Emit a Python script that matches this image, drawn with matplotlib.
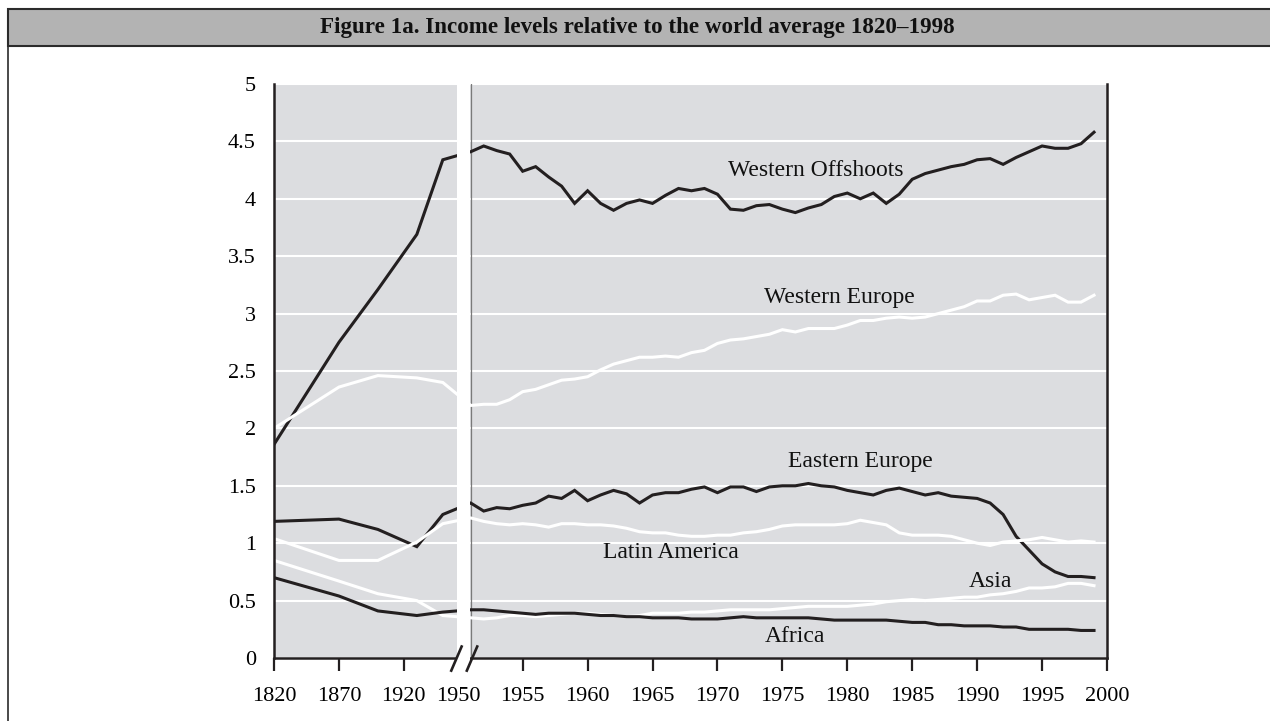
import numpy as np
import matplotlib
matplotlib.use("Agg")
import matplotlib.pyplot as plt
from matplotlib.patches import Rectangle
from matplotlib.lines import Line2D

plt.rcParams['font.family'] = ['Liberation Serif', 'DejaVu Serif']

# data: income relative to world average
years_left = [1820, 1870, 1900, 1930, 1950]
years_right = list(range(1950, 1999))

wo_left = [1.86, 2.75, 3.21, 3.69, 4.34]
wo_right = [4.41, 4.46, 4.42, 4.39, 4.24, 4.28, 4.19, 4.11, 3.96, 4.07,
            3.96, 3.90, 3.96, 3.99, 3.96, 4.03, 4.09, 4.07, 4.09, 4.04,
            3.91, 3.90, 3.94, 3.95, 3.91, 3.88, 3.92, 3.95, 4.02, 4.05,
            4.00, 4.05, 3.96, 4.04, 4.17, 4.22, 4.25, 4.28, 4.30, 4.34,
            4.35, 4.30, 4.36, 4.41, 4.46, 4.44, 4.44, 4.48, 4.58]

we_left = [2.00, 2.36, 2.46, 2.44, 2.40]
we_right = [2.20, 2.21, 2.21, 2.25, 2.32, 2.34, 2.38, 2.42, 2.43, 2.45,
            2.51, 2.56, 2.59, 2.62, 2.62, 2.63, 2.62, 2.66, 2.68, 2.74,
            2.77, 2.78, 2.80, 2.82, 2.86, 2.84, 2.87, 2.87, 2.87, 2.90,
            2.94, 2.94, 2.96, 2.97, 2.96, 2.97, 3.00, 3.03, 3.06, 3.11,
            3.11, 3.16, 3.17, 3.12, 3.14, 3.16, 3.10, 3.10, 3.16]

ee_left = [1.19, 1.21, 1.12, 0.97, 1.25]
ee_right = [1.35, 1.28, 1.31, 1.30, 1.33, 1.35, 1.41, 1.39, 1.46, 1.37,
            1.42, 1.46, 1.43, 1.35, 1.42, 1.44, 1.44, 1.47, 1.49, 1.44,
            1.49, 1.49, 1.45, 1.49, 1.50, 1.50, 1.52, 1.50, 1.49, 1.46,
            1.44, 1.42, 1.46, 1.48, 1.45, 1.42, 1.44, 1.41, 1.40, 1.39,
            1.35, 1.25, 1.06, 0.94, 0.82, 0.75, 0.71, 0.71, 0.70]

la_left = [1.04, 0.85, 0.85, 1.01, 1.17]
la_right = [1.22, 1.19, 1.17, 1.16, 1.17, 1.16, 1.14, 1.17, 1.17, 1.16,
            1.16, 1.15, 1.13, 1.10, 1.09, 1.09, 1.07, 1.06, 1.06, 1.07,
            1.07, 1.09, 1.10, 1.12, 1.15, 1.16, 1.16, 1.16, 1.16, 1.17,
            1.20, 1.18, 1.16, 1.09, 1.07, 1.07, 1.07, 1.06, 1.03, 1.00,
            0.98, 1.01, 1.02, 1.03, 1.05, 1.03, 1.01, 1.02, 1.01]

asia_left = [0.85, 0.67, 0.56, 0.50, 0.37]
asia_right = [0.35, 0.34, 0.35, 0.37, 0.37, 0.36, 0.37, 0.38, 0.39, 0.39,
              0.38, 0.37, 0.36, 0.37, 0.39, 0.39, 0.39, 0.40, 0.40, 0.41,
              0.42, 0.42, 0.42, 0.42, 0.43, 0.44, 0.45, 0.45, 0.45, 0.45,
              0.46, 0.47, 0.49, 0.50, 0.51, 0.50, 0.51, 0.52, 0.53, 0.53,
              0.55, 0.56, 0.58, 0.61, 0.61, 0.62, 0.65, 0.65, 0.63]

af_left = [0.70, 0.54, 0.41, 0.37, 0.40]
af_right = [0.42, 0.42, 0.41, 0.40, 0.39, 0.38, 0.39, 0.39, 0.39, 0.38,
            0.37, 0.37, 0.36, 0.36, 0.35, 0.35, 0.35, 0.34, 0.34, 0.34,
            0.35, 0.36, 0.35, 0.35, 0.35, 0.35, 0.35, 0.34, 0.33, 0.33,
            0.33, 0.33, 0.33, 0.32, 0.31, 0.31, 0.29, 0.29, 0.28, 0.28,
            0.28, 0.27, 0.27, 0.25, 0.25, 0.25, 0.25, 0.24, 0.24]

series = [
    ("Western Offshoots", wo_left, wo_right, "#231f20", (1977.6, 4.20)),
    ("Western Europe", we_left, we_right, "white", (1979.4, 3.09)),
    ("Eastern Europe", ee_left, ee_right, "#231f20", (1981.0, 1.665)),
    ("Latin America", la_left, la_right, "white", (1966.4, 0.87)),
    ("Asia", asia_left, asia_right, "white", (1991.0, 0.62)),
    ("Africa", af_left, af_right, "#231f20", (1976.0, 0.14)),
]


# broken axis: 1820-1950 compressed 10x, 1950-2000 full scale
def left_pos(y):
    return 1935.85 + (np.asarray(y) - 1820) / 10.0


def right_pos(y):
    return np.asarray(y) + 1.0


fig = plt.figure(figsize=(12.7, 7.21), dpi=100)
ax = fig.add_axes([274 / 1270, 63 / 721, 833 / 1270, 574 / 721])
ax.set_facecolor("#dcdde0")

xs = np.concatenate([left_pos(years_left), right_pos(years_right)])
for name, lv, rv, col, (tx, ty) in series:
    ys = np.concatenate([lv, rv])
    ax.plot(xs, ys, color=col, lw=2.2, zorder=2, solid_joinstyle='miter')
    ax.text(tx, ty, name, ha='center', va='baseline', fontsize=17, color='#111111', zorder=5)

ax.set_xlim(left_pos(1820), 2000)
ax.set_ylim(0, 5)

# gap at the break
ax.axvspan(1949.92, 1950.98, ymin=-0.012, ymax=1.0, color='white', zorder=3, clip_on=False, lw=0)
ax.axvline(1951.0, color='#7a7a7a', lw=0.9, zorder=1.5)
for x0 in (1949.5, 1950.7):
    ax.add_line(Line2D([x0, x0 + 0.8], [-0.11, 0.1], color='#231f20', lw=1.9,
                       clip_on=False, zorder=6))

ax.yaxis.grid(True, color='white', lw=1.5)
ax.set_axisbelow(True)

yt = np.arange(0, 5.01, 0.5)
ax.set_yticks(yt)
ax.set_yticklabels([f"{v:g}" for v in yt])
ax.tick_params(axis='y', length=0, pad=13, labelsize=16)

xt = list(left_pos([1820, 1870, 1920])) + [1950.07] + list(range(1955, 2001, 5))
xl = ["1820", "1870", "1920", "1950"] + [str(v) for v in range(1955, 2001, 5)]
ax.set_xticks(xt)
ax.set_xticklabels(xl)
ax.tick_params(axis='x', length=9, width=1.6, direction='out', pad=12, labelsize=16, color='#231f20')
ax.xaxis.get_major_ticks()[3].tick1line.set_visible(False)

for s in ('left', 'right', 'bottom'):
    ax.spines[s].set_color('#231f20')
    ax.spines[s].set_linewidth(1.8)
ax.spines['top'].set_visible(False)

# title bar and frame
fig.patches.append(Rectangle((8 / 1270, (721 - 46) / 721), 1.05, 37 / 721,
                             transform=fig.transFigure, facecolor='#b3b3b3',
                             edgecolor='#2b2b2b', lw=1.5))
fig.lines.append(Line2D([8 / 1270, 8 / 1270], [0, (721 - 46) / 721], transform=fig.transFigure,
                        color='#2b2b2b', lw=1.2))
fig.text(0.502, (721 - 28) / 721, "Figure 1a. Income levels relative to the world average 1820\u20131998",
         ha='center', va='center', fontsize=16.6, fontweight='bold', color='#111111')

fig.savefig("out.png", dpi=100)
